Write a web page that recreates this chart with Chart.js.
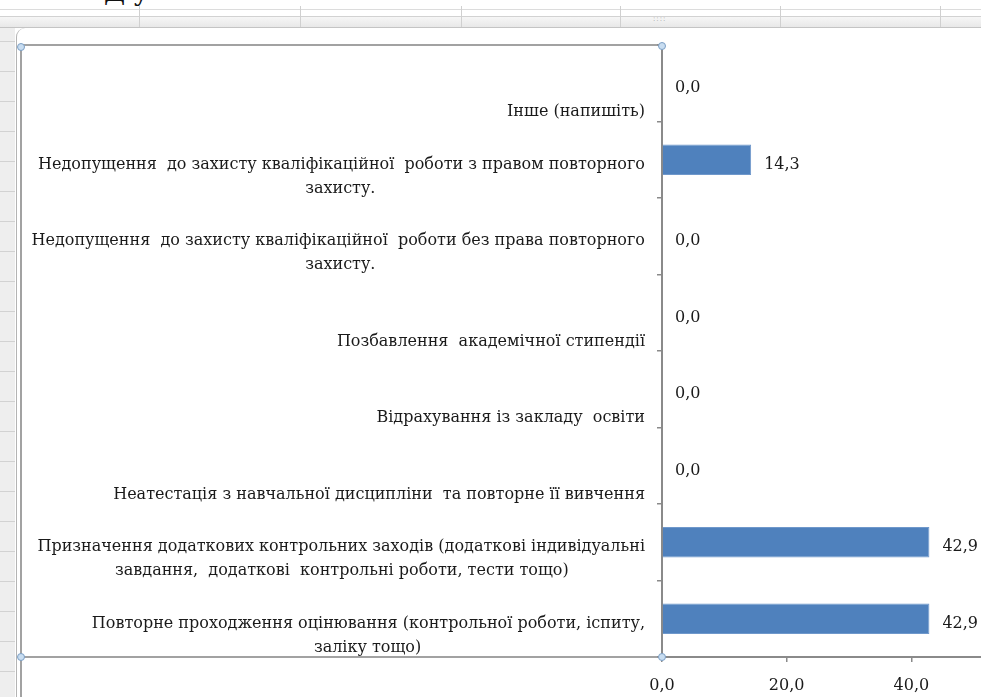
<!DOCTYPE html>
<html>
<head>
<meta charset="utf-8">
<script src="https://cdn.jsdelivr.net/npm/chart.js@4.4.0/dist/chart.umd.min.js"></script>
<style>
  html, body { margin: 0; padding: 0; background: #fff; }
  body { width: 981px; height: 697px; overflow: hidden; position: relative; font-family: "DejaVu Serif", serif; }
  .abs { position: absolute; }
  #topline { left: 0; top: 9px; width: 981px; height: 1px; background: #dcdcdc; }
  #strip { left: 0; top: 16px; width: 981px; height: 10px; background: linear-gradient(#f6f6f6, #e8e8e8); border-top: 1px solid #d2d2d2; border-bottom: 1px solid #c4c4c4; }
  .vcol { top: 6px; width: 1px; height: 21px; background: #d0d0d0; }
  #dots { left: 653px; top: 15px; font: 7px "DejaVu Sans", sans-serif; color: #9a9a9a; letter-spacing: 1px; }
  #frag { left: 104px; top: -23px; font: 26px "DejaVu Serif", serif; color: #111; }
  #leftstrip { left: 0; top: 28px; width: 15px; height: 669px; background-color: #eeeeee;
    background-image: repeating-linear-gradient(to bottom, transparent 0, transparent 13px, #d2d2d2 13px, #d2d2d2 14px, transparent 14px, transparent 30px); }
  #outer { left: 16px; top: 28px; width: 1000px; height: 700px; border-left: 1px solid #b4b4b4; border-top-left-radius: 9px; }
  #frameTop { left: 20px; top: 44px; width: 642px; height: 2px; background: #a2a2a2; }
  #frameLeft { left: 20px; top: 45px; width: 2px; height: 652px; background: #a2a2a2; }
  #frameBottom { left: 20px; top: 656px; width: 642px; height: 2px; background: #a2a2a2; }
  .handle { width: 6px; height: 6px; border-radius: 50%; background: #c8ddf1; border: 1px solid #7c9fc4; z-index: 5; }
  #wrap { left: 0; top: 0; width: 1060px; height: 697px; z-index: 2; }
</style>
</head>
<body>
<div class="abs" id="frag">Д у</div>
<div class="abs" id="topline"></div>
<div class="abs" id="strip"></div>
<div class="abs vcol" style="left:139px"></div>
<div class="abs vcol" style="left:300px"></div>
<div class="abs vcol" style="left:461px"></div>
<div class="abs vcol" style="left:620px"></div>
<div class="abs vcol" style="left:780px"></div>
<div class="abs vcol" style="left:940px"></div>
<div class="abs" id="dots">::::</div>
<div class="abs" id="leftstrip"></div>
<div class="abs" id="outer"></div>
<div class="abs" id="frameTop"></div>
<div class="abs" id="frameLeft"></div>
<div class="abs" id="frameBottom"></div>
<div class="abs" id="wrap"><canvas id="c" width="1060" height="697"></canvas></div>
<div class="abs handle" style="left:17px;top:43px"></div>
<div class="abs handle" style="left:658px;top:42px"></div>
<div class="abs handle" style="left:17px;top:653px"></div>
<div class="abs handle" style="left:658px;top:653px"></div>

<script>
// Categories in display order (top to bottom)
const categories = [
  "Інше (напишіть)",
  "Недопущення  до захисту кваліфікаційної  роботи з правом повторного захисту.",
  "Недопущення  до захисту кваліфікаційної  роботи без права повторного захисту.",
  "Позбавлення  академічної стипендії",
  "Відрахування із закладу  освіти",
  "Неатестація з навчальної дисципліни  та повторне її вивчення",
  "Призначення додаткових контрольних заходів (додаткові індивідуальні завдання,  додаткові  контрольні роботи, тести тощо)",
  "Повторне проходження оцінювання (контрольної роботи, іспиту, заліку тощо)"
];
// Category labels as wrapped in the picture
const categoryLines = [
  ["Інше (напишіть)"],
  ["Недопущення  до захисту кваліфікаційної  роботи з правом повторного", "захисту."],
  ["Недопущення  до захисту кваліфікаційної  роботи без права повторного", "захисту."],
  ["Позбавлення  академічної стипендії"],
  ["Відрахування із закладу  освіти"],
  ["Неатестація з навчальної дисципліни  та повторне її вивчення"],
  ["Призначення додаткових контрольних заходів (додаткові індивідуальні", "завдання,  додаткові  контрольні роботи, тести тощо)"],
  ["Повторне проходження оцінювання (контрольної роботи, іспиту,", "заліку тощо)"]
];
const values = [0.0, 14.3, 0.0, 0.0, 0.0, 0.0, 42.9, 42.9];
const xTickValues = [0, 20, 40, 60];

const LABEL_FONT = '16px "DejaVu Serif"';
const fmt = v => v.toFixed(1).replace('.', ',');

// Center shorter lines under the longest one (block stays right-aligned)
function centeredBlock(lines, ctx) {
  ctx.save();
  ctx.font = LABEL_FONT;
  const sp = ctx.measureText(' ').width;
  const widths = lines.map(l => ctx.measureText(l).width);
  const maxW = Math.max(...widths);
  const out = lines.map((l, i) => {
    const n = Math.round(((maxW - widths[i]) / 2) / sp);
    return l + ' '.repeat(n);
  });
  ctx.restore();
  while (out.length < 3) out.unshift('');
  return out;
}

const valueLabels = {
  id: 'valueLabels',
  afterDatasetsDraw(chart) {
    const ctx = chart.ctx;
    const meta = chart.getDatasetMeta(0);
    ctx.save();
    ctx.font = '16px "DejaVu Serif"';
    ctx.fillStyle = '#1a1a1a';
    ctx.textAlign = 'left';
    ctx.textBaseline = 'middle';
    meta.data.forEach((bar, i) => {
      ctx.fillText(fmt(values[i]), bar.x + 13, bar.y + 5);
    });
    ctx.restore();
  }
};

new Chart(document.getElementById('c'), {
  type: 'bar',
  data: {
    labels: categories,
    datasets: [{
      data: values,
      backgroundColor: '#4f81bd',
      borderColor: '#6f98cb',
      borderWidth: 1,
      barPercentage: 0.4,
      categoryPercentage: 1.0
    }]
  },
  options: {
    indexAxis: 'y',
    responsive: false,
    devicePixelRatio: 1,
    animation: false,
    layout: { padding: { top: 45, right: 24, bottom: 0, left: 0 } },
    plugins: { legend: { display: false }, tooltip: { enabled: false } },
    scales: {
      y: {
        type: 'category',
        offset: true,
        afterFit(scale) { scale.width = 662; scale.paddingTop = 0; scale.paddingBottom = 0; },
        grid: { display: true, drawOnChartArea: false, drawTicks: true, tickLength: 5, color: '#8a8a8a', lineWidth: 1.5, offset: true },
        border: { display: true, color: '#8a8a8a', width: 2 },
        ticks: {
          padding: 12,
          labelOffset: 5,
          color: '#1a1a1a',
          font: { family: 'DejaVu Serif', size: 16, lineHeight: 1.5 },
          autoSkip: false,
          callback: function(value, index) {
            return centeredBlock(categoryLines[index], this.chart.ctx);
          }
        }
      },
      x: {
        type: 'linear',
        min: xTickValues[0],
        max: xTickValues[xTickValues.length - 1],
        afterFit(scale) { scale.height = 40; scale.paddingLeft = 0; scale.paddingRight = 0; },
        afterBuildTicks(scale) { scale.ticks = xTickValues.map(v => ({ value: v })); },
        grid: { display: true, drawOnChartArea: false, drawTicks: true, tickLength: 5, color: '#8a8a8a', lineWidth: 1.5 },
        border: { display: true, color: '#8a8a8a', width: 2 },
        ticks: {
          padding: 14,
          color: '#1a1a1a',
          font: { family: 'DejaVu Serif', size: 16 },
          callback: v => fmt(v)
        }
      }
    }
  },
  plugins: [valueLabels]
});
</script>
</body>
</html>
